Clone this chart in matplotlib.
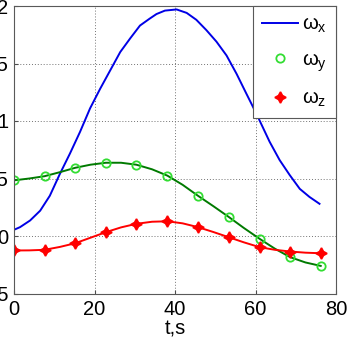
import numpy as np
import matplotlib
matplotlib.use("Agg")
import matplotlib.pyplot as plt

plt.rcParams['font.family'] = ['Liberation Sans', 'DejaVu Sans']

# --- data ---
t_x = [0, 1.5, 4, 6.5, 8.9, 11.4, 13.9, 16.4, 18.9, 21.4, 23.9, 26.4, 28.9,
       31.3, 33.7, 35.4, 37.5, 40.4, 42.9, 45.3, 47.8, 50.3, 52.8, 55.3, 57.7,
       60.2, 63.5, 66, 68.5, 71, 73.4, 75.9]
w_x = [0.054, 0.077, 0.135, 0.22, 0.35, 0.54, 0.717, 0.905, 1.11, 1.28, 1.44,
       1.6, 1.72, 1.83, 1.89, 1.93, 1.96, 1.97, 1.94, 1.88, 1.79, 1.69, 1.57,
       1.41, 1.24, 1.065, 0.82, 0.66, 0.53, 0.41, 0.34, 0.28]

t_yz = [0, 3.8, 7.6, 11.4, 15.2, 19, 22.8, 26.6, 30.4, 34.3, 38.1, 41.9, 45.7,
        49.5, 53.3, 57.1, 61, 64.8, 68.6, 72.4, 76.2]
w_y = [0.484, 0.50, 0.52, 0.555, 0.593, 0.62, 0.637, 0.637, 0.62, 0.58, 0.525,
       0.445, 0.35, 0.26, 0.167, 0.07, -0.024, -0.11, -0.184, -0.23, -0.26]
w_z = [-0.126, -0.125, -0.12, -0.095, -0.063, -0.015, 0.033, 0.075, 0.106,
       0.124, 0.128, 0.11, 0.077, 0.035, -0.01, -0.055, -0.097, -0.12, -0.135,
       -0.145, -0.15]

x_ticks = [0, 20, 40, 60, 80]
y_ticks = [-0.5, 0, 0.5, 1, 1.5, 2]
y_tick_labels = ['-0.5', '0', '0.5', '1', '1.5', '2']

fig = plt.figure(figsize=(3.48, 3.38), dpi=100)
ax = fig.add_axes([14/348, 44.5/338, 322/348, 287.5/338])

# lines
ax.plot(t_x, w_x, color='#0000e6', lw=1.4, label='ω$_{\\mathregular{x}}$')
ax.plot(t_yz, w_y, color='#007a00', lw=1.4)
ax.plot(t_yz, w_z, color='#ff0000', lw=1.4)
# markers every second sample
ax.plot(t_yz[::2], w_y[::2], ls='none', marker='o', ms=6, mfc='none',
        mec='#33dd33', mew=1.3, label='ω$_{\\mathregular{y}}$')
ax.plot(t_yz[::2], w_z[::2], ls='none', marker=(4, 1, 0), ms=8,
        color='#ff0000', mew=1.2, label='ω$_{\\mathregular{z}}$')

ax.set_xlim(0, 80)
ax.set_ylim(-0.5, 2)
ax.set_xticks(x_ticks)
ax.set_yticks(y_ticks)
ax.set_yticklabels(y_tick_labels)
ax.tick_params(direction='in', labelsize=14.5, length=3, color='0.3')
ax.tick_params(axis='y', pad=4)
ax.tick_params(axis='x', pad=5)
ax.grid(True, color='0.45', ls=(0, (1, 2)), lw=0.7)
for s in ax.spines.values():
    s.set_color('0.35')
    s.set_linewidth(0.8)

ax.set_xlabel('t,s', fontsize=14.5, labelpad=0)

leg = ax.legend(loc='upper right', borderaxespad=0, fontsize=14.5,
                fancybox=False, edgecolor='0.35', framealpha=1,
                handlelength=1.8, handletextpad=0.2, labelspacing=0.75,
                borderpad=0.45)
leg.get_frame().set_linewidth(0.8)

fig.savefig('out.png', dpi=100)
